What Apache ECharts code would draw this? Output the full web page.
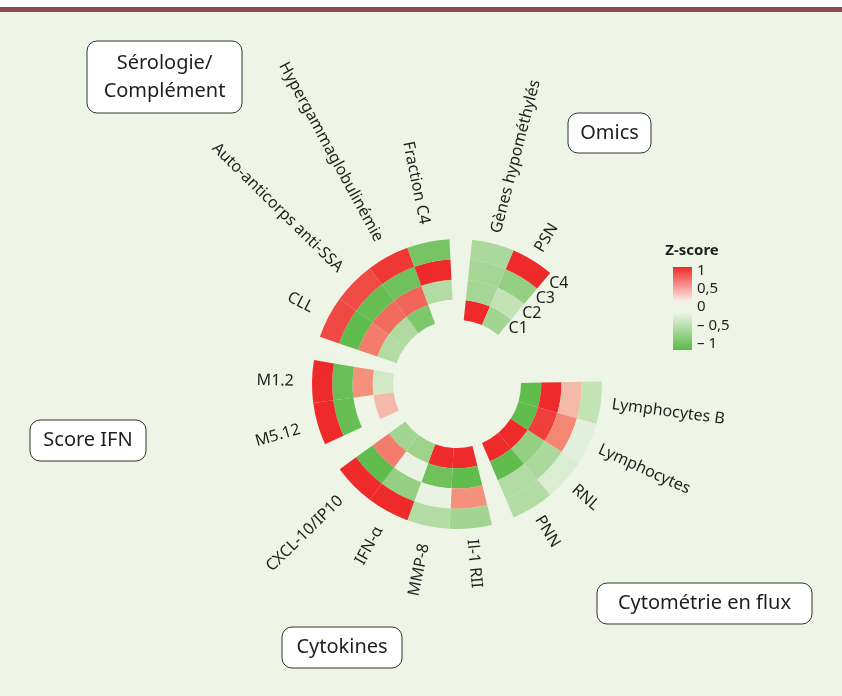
<!DOCTYPE html>
<html>
<head>
<meta charset="utf-8">
<script src="https://cdn.jsdelivr.net/npm/echarts@6/dist/echarts.min.js"></script>
<style>
  html, body { margin: 0; padding: 0; background: #fff; }
  #chart { width: 842px; height: 696px; }
</style>
</head>
<body>
<div id="chart"></div>
<script>
// columns, clockwise from the top
const groupNames = ['Omics', 'Cytométrie en flux', 'Cytokines', 'Score IFN', 'Sérologie/\nComplément']
const columns = [
  'Gènes hypométhylés', 'PSN',
  'Lymphocytes B', 'Lymphocytes', 'RNL', 'PNN',
  'Il-1 RII', 'MMP-8', 'IFN-α', 'CXCL-10/IP10',
  'M5.12', 'M1.2',
  'CLL', 'Auto-anticorps anti-SSA', 'Hypergammaglobulinémie', 'Fraction C4'
]
const columnGroup = [0, 0, 1, 1, 1, 1, 2, 2, 2, 2, 3, 3, 4, 4, 4, 4]
const trackNames = ['C1', 'C2', 'C3', 'C4']

// z-scores, one array per track (C1 = inner ring), null = no cell
const c1 = [1, -0.5, -0.95, -0.95, 1, 1, 1, 1, -0.55, -0.5, 0.3, -0.2, -0.4, -0.42, -0.75, null]
const c2 = [-0.48, -0.3, 1, 0.9, -0.6, -0.95, -0.95, -0.85, -0.05, 0.6, null, 0.5, 0.6, 0.68, 0.72, -0.4]
const c3 = [-0.48, -0.6, 0.3, 0.55, -0.45, -0.4, 0.5, -0.05, -0.6, -0.95, -0.92, -0.9, -0.95, -0.92, -0.85, 1]
const c4 = [-0.45, 1, -0.3, -0.1, -0.15, -0.4, -0.5, -0.4, 1, 1, 1, 1, 0.85, 0.84, 0.93, -0.8]
const tracks = [c1, c2, c3, c4]

const legendTicks = ['1', '0,5', '0', '– 0,5', '– 1']

// layout (degrees clockwise from north)
const COL_DEG = 17
const GROUP_START = [6, 89, 166, 245.5, 289]
const FONT = '"Noto Sans", sans-serif'

function colStart(i) {
  const g = columnGroup[i]
  const first = columnGroup.indexOf(g)
  return GROUP_START[g] + (i - first) * COL_DEG
}

const cells = []
tracks.forEach((vals, ring) => {
  vals.forEach((v, i) => {
    if (v !== null) cells.push([ring, colStart(i), colStart(i) + COL_DEG, v])
  })
})
const labelData = columns.map((name, i) => {
  const mid = colStart(i) + COL_DEG / 2
  return [mid < 180 ? 4.55 : 4.9, mid, i]
})
const trackData = trackNames.map((name, ring) => [ring + 0.5, GROUP_START[0] + 2 * COL_DEG + 2, ring])

let chart = echarts.init(document.getElementById('chart'))

function renderCell(params, api) {
  const ring = api.value(0)
  const p0 = api.coord([ring, api.value(1)])
  const p1 = api.coord([ring + 1, api.value(2)])
  const cs = params.coordSys
  return {
    type: 'sector',
    shape: {
      cx: cs.cx, cy: cs.cy, r0: p0[2], r: p1[2],
      startAngle: -p0[3], endAngle: -p1[3], clockwise: true
    },
    style: { fill: api.visual('color') }
  }
}

function renderLabel(params, api) {
  const a = api.value(1)
  const p = api.coord([api.value(0), a])
  const right = a < 180
  return {
    type: 'text',
    x: p[0], y: p[1],
    rotation: (right ? 90 - a : 270 - a) * Math.PI / 180,
    style: {
      text: columns[api.value(2)],
      align: right ? 'left' : 'right',
      verticalAlign: 'middle',
      font: '16px ' + FONT,
      fill: '#1e1e1e'
    }
  }
}

function renderTrack(params, api) {
  const p = api.coord([api.value(0), api.value(1)])
  return {
    type: 'text',
    x: p[0] + 2, y: p[1],
    style: {
      text: trackNames[api.value(2)],
      align: 'left',
      verticalAlign: 'middle',
      font: '16px ' + FONT,
      fill: '#1e1e1e'
    }
  }
}

function box(x, y, w, h, text) {
  return {
    type: 'group', x: x, y: y,
    children: [
      { type: 'rect', shape: { x: 0, y: 0, width: w, height: h, r: 10 },
        style: { fill: '#fff', stroke: '#333', lineWidth: 1 } },
      { type: 'text', x: w / 2, y: h / 2,
        style: { text: text, align: 'center', verticalAlign: 'middle',
                 font: '20px ' + FONT, lineHeight: 28, fill: '#1e1e1e' } }
    ]
  }
}

const legendY = [271, 289, 307, 326, 344]
const graphics = [
  { type: 'rect', shape: { x: 0, y: 0, width: 842, height: 7 }, style: { fill: '#fff' } },
  { type: 'rect', shape: { x: 0, y: 7, width: 842, height: 5 }, style: { fill: '#8f4a57' } },
  box(87, 41, 155, 72, groupNames[4]),
  box(568, 113, 83, 40, groupNames[0]),
  box(30, 420, 116, 41, groupNames[3]),
  box(282, 627, 120, 41, groupNames[2]),
  box(597, 583, 215, 41, groupNames[1]),
  { type: 'text', x: 692, y: 251,
    style: { text: 'Z-score', align: 'center', verticalAlign: 'middle',
             font: 'bold 15px ' + FONT, fill: '#1e1e1e' } },
  { type: 'rect', shape: { x: 673, y: 267, width: 19, height: 34 },
    style: { fill: new echarts.graphic.LinearGradient(0, 0, 0, 1, [
      { offset: 0, color: '#ee2a2a' }, { offset: 1, color: '#fcebe7' }]) } },
  { type: 'rect', shape: { x: 673, y: 313, width: 19, height: 37 },
    style: { fill: new echarts.graphic.LinearGradient(0, 0, 0, 1, [
      { offset: 0, color: '#eaf4e4' }, { offset: 1, color: '#5ab946' }]) } }
]
legendTicks.forEach((t, i) => {
  graphics.push({ type: 'text', x: 697, y: legendY[i],
    style: { text: t, align: 'left', verticalAlign: 'middle', font: '15px ' + FONT, fill: '#1e1e1e' } })
})

const option = {
  backgroundColor: '#eef5e7',
  animation: false,
  polar: { center: [457, 384], radius: [64, 145] },
  angleAxis: { type: 'value', min: 0, max: 360, startAngle: 90, clockwise: true, show: false },
  radiusAxis: { type: 'value', min: 0, max: 4, show: false },
  visualMap: {
    show: false, type: 'continuous', seriesIndex: 0, dimension: 3, min: -1, max: 1,
    inRange: { color: ['#5ab946', '#a3d592', '#f2f6ec', '#f4917c', '#ee2a2a'] }
  },
  graphic: graphics,
  series: [
    { type: 'custom', coordinateSystem: 'polar', renderItem: renderCell, data: cells, silent: true },
    { type: 'custom', coordinateSystem: 'polar', renderItem: renderLabel, data: labelData, silent: true },
    { type: 'custom', coordinateSystem: 'polar', renderItem: renderTrack, data: trackData, silent: true }
  ]
}
chart.setOption(option)
</script>
</body>
</html>
